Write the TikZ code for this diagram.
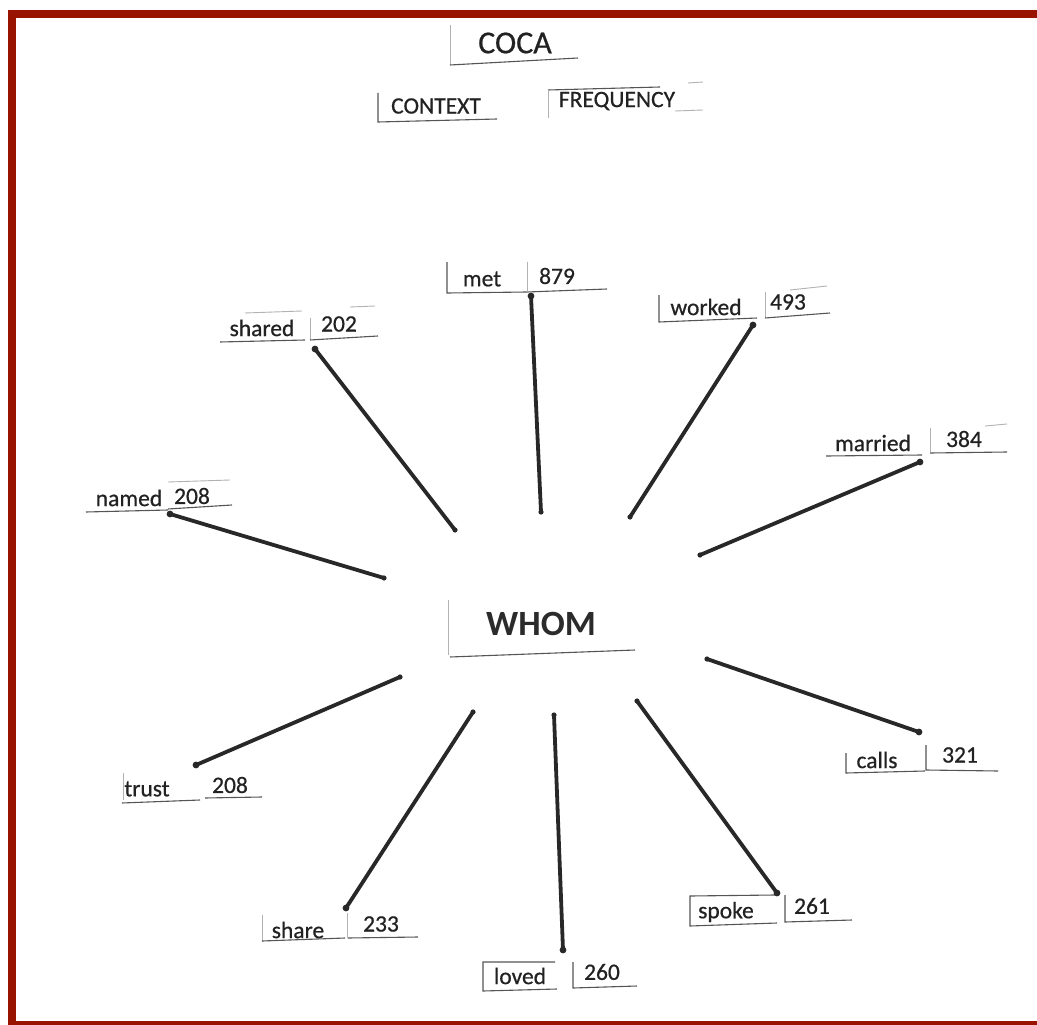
\documentclass[tikz,border=0pt]{standalone}
\usepackage{fontspec}
\setmainfont{Carlito}
\newfontfamily\scanfont[FakeBold=0.6]{Carlito}
\definecolor{frame}{RGB}{152,20,0}
\definecolor{ink}{RGB}{34,34,34}
\definecolor{pen}{RGB}{40,40,40}
\definecolor{edge}{RGB}{85,85,85}
\tikzset{
  lbl/.style={inner sep=0pt, text=ink, font=\scanfont\fontsize{23.5}{28}\selectfont},
  big/.style={inner sep=0pt, text=ink, font=\scanfont\fontsize{32}{38}\selectfont},
  hub/.style={inner sep=0pt, text=ink!90!gray, font=\bfseries\fontsize{35.5}{42}\selectfont},
  conn/.style={draw=pen, line width=3.8pt, line cap=round},
  tipdot/.style={fill=pen, draw=none},
  cut/.style={draw=edge, line width=1.1pt},
  faint/.style={draw=edge!45, line width=0.9pt}
}
\begin{document}
\begin{tikzpicture}[x=1pt,y=-1pt]
\useasboundingbox (0,0) rectangle (1037,1025);
\fill[white] (0,0) rectangle (1037,1025);
% frame
\fill[frame] (8,10) rectangle (16,1025);
\fill[frame] (8,10) rectangle (1037,18);
\fill[frame] (8,1021) rectangle (1037,1025);

% headings
\node[big] (coca) at (515,43) {COCA};
\draw[faint] (450,25) -- (450,65);
\draw[cut] (450,65) -- (578,58);
\node[lbl] (context) at (436,106) {CONTEXT};
\draw[cut] (378,93) -- (378,122) -- (497,119);
\node[lbl] (freq) at (617,101) {FREQUENCY};
\draw[cut] (548,90) -- (660,87);
\draw[faint] (688,83) -- (703,82);
\draw[faint] (548,90) -- (548,118);
\draw[faint] (675,111) -- (703,110);

% centre
\node[hub] (whom) at (541,624) {WHOM};
\draw[faint] (448,600) -- (448,655);
\draw[cut] (450,657) -- (635,650);

% met 879
\node[lbl] (wmet) at (482,279) {met};
\node[lbl] (nmet) at (557,276) {879};
\draw[cut] (447,262) -- (447,293) -- (527,292) -- (607,289);
\draw[faint] (527,262) -- (527,292);
% worked 493
\node[lbl] (wworked) at (706,307) {worked};
\node[lbl] (nworked) at (788,302) {493};
\draw[cut] (659,295) -- (659,322) -- (757,318);
\draw[faint] (765,292) -- (765,318);
\draw[cut] (765,318) -- (830,313);
\draw[faint] (790,290) -- (827,286);
% shared 202
\node[lbl] (wshared) at (262,328) {shared};
\node[lbl] (nshared) at (339,324) {202};
\draw[faint] (245,313) -- (302,311);
\draw[cut] (220,342) -- (305,340);
\draw[faint] (310,318) -- (310,340);
\draw[cut] (310,340) -- (378,336);
\draw[faint] (350,307) -- (375,306);
% named 208
\node[lbl] (wnamed) at (129,498) {named};
\node[lbl] (nnamed) at (192,496) {208};
\draw[cut] (86,512) -- (168,510);
\draw[cut] (168,509) -- (232,505);
\draw[faint] (168,482) -- (230,480);
% married 384
\node[lbl] (wmarried) at (873,443) {married};
\node[lbl] (nmarried) at (964,439) {384};
\draw[cut] (826,456) -- (922,455);
\draw[faint] (930,428) -- (930,452);
\draw[cut] (930,453) -- (1007,452);
\draw[faint] (985,426) -- (1007,424);
% calls 321
\node[lbl] (wcalls) at (877,760) {calls};
\node[lbl] (ncalls) at (960,755) {321};
\draw[cut] (846,753) -- (846,773) -- (925,771);
\draw[cut] (926,745) -- (926,770) -- (998,771);
% trust 208
\node[lbl] (wtrust) at (147,789) {trust};
\node[lbl] (ntrust) at (230,785) {208};
\draw[faint] (123,773) -- (123,800);
\draw[cut] (122,803) -- (200,800);
\draw[cut] (205,798) -- (262,797);
% share 233
\node[lbl] (wshare) at (298,930) {share};
\node[lbl] (nshare) at (381,924) {233};
\draw[faint] (262,915) -- (262,942);
\draw[cut] (262,941) -- (345,938);
\draw[faint] (347,913) -- (347,938);
\draw[cut] (348,938) -- (418,937);
% loved 260
\node[lbl] (wloved) at (520,976) {loved};
\node[lbl] (nloved) at (602,972) {260};
\draw[cut] (555,962) -- (483,962) -- (483,991) -- (557,989);
\draw[cut] (573,962) -- (573,988) -- (637,986);
% spoke 261
\node[lbl] (wspoke) at (726,912) {spoke};
\node[lbl] (nspoke) at (812,906) {261};
\draw[cut] (775,895) -- (690,896) -- (690,926) -- (777,923);
\draw[cut] (785,895) -- (785,922) -- (852,920);

% connector end points
\coordinate (met-o) at (531,296);    \coordinate (met-i) at (541,512);
\coordinate (wor-o) at (753,325);    \coordinate (wor-i) at (630,517);
\coordinate (sha-o) at (315,349);    \coordinate (sha-i) at (455,530);
\coordinate (nam-o) at (170,514);    \coordinate (nam-i) at (384,578);
\coordinate (mar-o) at (920,462);    \coordinate (mar-i) at (700,555);
\coordinate (cal-o) at (919,732);    \coordinate (cal-i) at (707,659);
\coordinate (spo-o) at (777,893);    \coordinate (spo-i) at (637,701);
\coordinate (lov-o) at (563,950);    \coordinate (lov-i) at (554,715);
\coordinate (sh2-o) at (346,908);    \coordinate (sh2-i) at (473,712);
\coordinate (tru-o) at (196,765);    \coordinate (tru-i) at (400,677);

\foreach \c in {met,wor,sha,nam,mar,cal,spo,lov,sh2,tru}{
  \draw[conn] (\c-o) -- (\c-i);
  \fill[tipdot] (\c-o) circle (3.4pt);
  \fill[tipdot] (\c-i) circle (2.6pt);
}
\end{tikzpicture}
\end{document}
